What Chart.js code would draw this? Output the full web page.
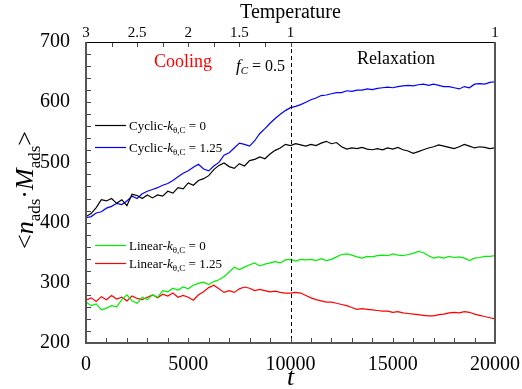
<!DOCTYPE html>
<html>
<head>
<meta charset="utf-8">
<script src="https://cdn.jsdelivr.net/npm/chart.js@4.4.0/dist/chart.umd.min.js"></script>
<style>
    html, body { margin: 0; padding: 0; background: #fff; }
    #wrap { width: 522px; height: 389px; }
</style>
</head>
<body>
<div id="wrap"><canvas id="chart"></canvas></div>
<script>
// === DATA ===
const timeSteps = [0, 250, 500, 750, 1000, 1250, 1500, 1750, 2000, 2250, 2500, 2750, 3000, 3250, 3500, 3750,
    4000, 4250, 4500, 4750, 5000, 5250, 5500, 5750, 6000, 6250, 6500, 6750, 7000, 7250, 7500, 7750,
    8000, 8250, 8500, 8750, 9000, 9250, 9500, 9750, 10000, 10250, 10500, 10750, 11000, 11250, 11500, 11750,
    12000, 12250, 12500, 12750, 13000, 13250, 13500, 13750, 14000, 14250, 14500, 14750, 15000, 15250, 15500, 15750,
    16000, 16250, 16500, 16750, 17000, 17250, 17500, 17750, 18000, 18250, 18500, 18750, 19000, 19250, 19500, 19750, 20000];

const cyclicK0 = [410, 415, 425, 438, 436, 440, 432, 438, 428, 447, 445, 440, 446, 441, 446, 444,
    452, 449, 458, 456, 466, 462, 470, 473, 478, 488, 495, 499, 493, 490, 498, 494,
    503, 505, 509, 506, 514, 520, 524, 530, 528, 531, 529, 527, 530, 528, 532, 535,
    531, 533, 526, 522, 524, 523, 525, 522, 521, 523, 521, 524, 522, 525, 521, 519,
    515, 518, 521, 524, 526, 529, 527, 525, 523, 526, 530, 527, 524, 526, 525, 523, 524];

const cyclicK125 = [408, 410, 416, 418, 424, 427, 432, 430, 436, 444, 440, 448, 452, 455, 458, 462,
    465, 470, 476, 482, 486, 492, 497, 489, 486, 494, 500, 512, 516, 524, 532, 530,
    527, 536, 548, 556, 565, 573, 580, 586, 591, 593, 596, 600, 604, 607, 611, 612,
    614, 616, 616, 619, 618, 620, 620, 622, 621, 623, 624, 625, 624, 626, 627, 628,
    627, 629, 630, 628, 630, 628, 626, 626, 624, 622, 626, 624, 630, 631, 630, 633, 634];

const linearK0 = [268, 262, 265, 255, 258, 262, 260, 272, 280, 270, 266, 276, 272, 280, 276, 287,
    285, 291, 288, 293, 290, 296, 299, 301, 297, 302, 305, 310, 318, 326, 322, 326,
    330, 333, 328, 331, 333, 335, 333, 338, 339, 336, 339, 338, 339, 337, 340, 337,
    339, 343, 347, 348, 346, 343, 341, 344, 343, 345, 346, 345, 348, 346, 345, 347,
    349, 352, 350, 345, 341, 343, 341, 344, 342, 343, 341, 337, 341, 342, 344, 344, 345];

const linearK125 = [271, 275, 269, 277, 272, 279, 273, 276, 270, 278, 274, 272, 276, 280, 275, 281,
    278, 283, 276, 279, 276, 271, 280, 285, 292, 296, 290, 284, 287, 284, 290, 293,
    291, 287, 289, 287, 285, 286, 284, 283, 283, 284, 283, 279, 275, 272, 270, 268,
    268, 266, 264, 262, 259, 256, 257, 256, 255, 254, 253, 253, 251, 252, 250, 249,
    248, 247, 246, 245, 245, 247, 248, 250, 251, 250, 252, 251, 248, 246, 244, 242, 240];

const tempTickPos = [0, 2500, 5000, 7500, 10000, 20000];
const tempTickLabels = ['3', '2.5', '2', '1.5', '1', '1'];
const tempMinorTicks = [0, 1250, 2500, 3750, 5000, 6250, 7500, 8750, 10000];
const tMinorTicks = [0, 1000, 2000, 3000, 4000, 5000, 6000, 7000, 8000, 9000, 10000,
    11000, 12000, 13000, 14000, 15000, 16000, 17000, 18000, 19000, 20000];
const yMinorTicks = [200, 220, 240, 260, 280, 300, 320, 340, 360, 380, 400, 420, 440, 460, 480,
    500, 520, 540, 560, 580, 600, 620, 640, 660, 680, 700];

const SERIF = '"Liberation Serif", "Times New Roman", serif';

// === HELPERS ===
const toPoints = (values) => values.map((v, i) => ({ x: timeSteps[i], y: v }));

// vẽ chữ có chỉ số dưới: parts = [{t, size, italic, dy}]
const drawRich = (ctx, parts, x, y, align, color) => {
    let total = 0;
    parts.forEach(p => {
        ctx.font = `${p.italic ? 'italic ' : ''}${p.size}px ${SERIF}`;
        p.w = ctx.measureText(p.t).width;
        total += p.w;
    });
    let cx = align === 'center' ? x - total / 2 : x;
    ctx.fillStyle = color || '#000';
    ctx.textAlign = 'left';
    ctx.textBaseline = 'alphabetic';
    parts.forEach(p => {
        ctx.font = `${p.italic ? 'italic ' : ''}${p.size}px ${SERIF}`;
        ctx.fillText(p.t, cx, y + (p.dy || 0));
        cx += p.w;
    });
};

const legendItems = [
    { name: 'Cyclic-', k: '0', color: '#000000', y: 125 },
    { name: 'Cyclic-', k: '1.25', color: '#0000ff', y: 147 },
    { name: 'Linear-', k: '0', color: '#00ee00', y: 245 },
    { name: 'Linear-', k: '1.25', color: '#ff0000', y: 263 }
];

const decorPlugin = {
    id: 'decor',
    afterDraw(chart) {
        const { ctx, chartArea: a, scales: { x, y } } = chart;
        ctx.save();

        // đường đứt nét tại t = 10000
        ctx.strokeStyle = '#000';
        ctx.lineWidth = 1;
        ctx.setLineDash([4, 3]);
        const xd = Math.round(x.getPixelForValue(10000)) + 0.5;
        ctx.beginPath();
        ctx.moveTo(xd, a.top);
        ctx.lineTo(xd, a.bottom);
        ctx.stroke();
        ctx.setLineDash([]);

        // vạch chia hướng vào trong
        ctx.strokeStyle = '#444';
        ctx.lineWidth = 1;
        ctx.beginPath();
        tMinorTicks.forEach(v => {
            const px = Math.round(x.getPixelForValue(v)) + 0.5;
            ctx.moveTo(px, a.bottom);
            ctx.lineTo(px, a.bottom - 5);
        });
        tempMinorTicks.forEach(v => {
            const px = Math.round(x.getPixelForValue(v)) + 0.5;
            ctx.moveTo(px, a.top);
            ctx.lineTo(px, a.top + 5);
        });
        yMinorTicks.forEach(v => {
            const py = Math.round(y.getPixelForValue(v)) + 0.5;
            ctx.moveTo(a.left, py);
            ctx.lineTo(a.left + 5, py);
        });
        ctx.stroke();

        // khung
        ctx.strokeStyle = '#000';
        ctx.lineWidth = 1;
        ctx.beginPath();
        ctx.moveTo(a.left, a.top + 0.5);
        ctx.lineTo(a.right, a.top + 0.5);
        ctx.stroke();
        ctx.strokeStyle = '#555';
        ctx.lineWidth = 2;
        ctx.beginPath();
        ctx.moveTo(a.left, a.top);
        ctx.lineTo(a.left, a.bottom);
        ctx.lineTo(a.right, a.bottom);
        ctx.lineTo(a.right, a.top);
        ctx.stroke();

        // trục nhiệt độ phía trên
        ctx.fillStyle = '#000';
        ctx.font = `15px ${SERIF}`;
        ctx.textAlign = 'center';
        ctx.textBaseline = 'alphabetic';
        tempTickPos.forEach((v, i) => {
            ctx.fillText(tempTickLabels[i], x.getPixelForValue(v), 37);
        });
        ctx.font = `20px ${SERIF}`;
        ctx.fillText('Temperature', (a.left + a.right) / 2, 18);

        // chú thích
        legendItems.forEach(item => {
            ctx.strokeStyle = item.color;
            ctx.lineWidth = 1.2;
            ctx.beginPath();
            ctx.moveTo(95, item.y + 0.5);
            ctx.lineTo(126, item.y + 0.5);
            ctx.stroke();
            drawRich(ctx, [
                { t: item.name, size: 13 },
                { t: 'k', size: 13, italic: true },
                { t: 'θ,C', size: 9, dy: 3 },
                { t: ' = ' + item.k, size: 13 }
            ], 129, item.y + 5, 'left', '#000');
        });

        // nhãn trong vùng vẽ
        drawRich(ctx, [{ t: 'Cooling', size: 18 }], 183, 67, 'center', '#ff0000');
        drawRich(ctx, [{ t: 'Relaxation', size: 18 }], 396, 64, 'center', '#000');
        drawRich(ctx, [
            { t: 'f', size: 17, italic: true },
            { t: 'C', size: 11, italic: true, dy: 3 },
            { t: ' = 0.5', size: 16 }
        ], 236, 71, 'left', '#000');

        // tiêu đề trục hoành
        drawRich(ctx, [{ t: 't', size: 26, italic: true }], (a.left + a.right) / 2, 385, 'center', '#000');

        // tiêu đề trục tung
        ctx.translate(33, 190);
        ctx.rotate(-Math.PI / 2);
        drawRich(ctx, [
            { t: '<', size: 26 },
            { t: 'n', size: 26, italic: true },
            { t: 'ads', size: 17, dy: 7 },
            { t: '·', size: 26 },
            { t: 'M', size: 26, italic: true },
            { t: 'ads', size: 17, dy: 7 },
            { t: '>', size: 26 }
        ], 0, 0, 'center', '#000');

        ctx.restore();
    }
};

const makeSet = (label, values, color) => ({
    label,
    data: toPoints(values),
    borderColor: color,
    borderWidth: 1.2,
    pointRadius: 0,
    tension: 0,
    fill: false
});

new Chart(document.getElementById('chart'), {
    type: 'line',
    data: {
        datasets: [
            makeSet('Linear-k0', linearK0, '#00ee00'),
            makeSet('Linear-k1.25', linearK125, '#ff0000'),
            makeSet('Cyclic-k0', cyclicK0, '#000000'),
            makeSet('Cyclic-k1.25', cyclicK125, '#0000ff')
        ]
    },
    options: {
        responsive: true,
        maintainAspectRatio: false,
        animation: false,
        layout: { padding: { left: 0, right: 25, top: 42, bottom: 0 } },
        plugins: { legend: { display: false }, tooltip: { enabled: false } },
        scales: {
            x: {
                type: 'linear',
                position: 'bottom',
                min: 0,
                max: 20000,
                grid: { display: false },
                border: { display: false },
                ticks: {
                    stepSize: 5000,
                    autoSkip: false,
                    maxRotation: 0,
                    padding: 2,
                    color: '#000',
                    font: { family: SERIF, size: 20 },
                    callback: (v) => String(v)
                },
                afterFit: (s) => { s.height = 46; }
            },
            y: {
                min: 200,
                max: 700,
                grid: { display: false },
                border: { display: false },
                ticks: {
                    stepSize: 100,
                    padding: 8,
                    color: '#000',
                    font: { family: SERIF, size: 20 },
                    callback: (v) => String(v)
                },
                afterFit: (s) => { s.width = 86; }
            }
        }
    },
    plugins: [decorPlugin]
});
</script>
</body>
</html>
